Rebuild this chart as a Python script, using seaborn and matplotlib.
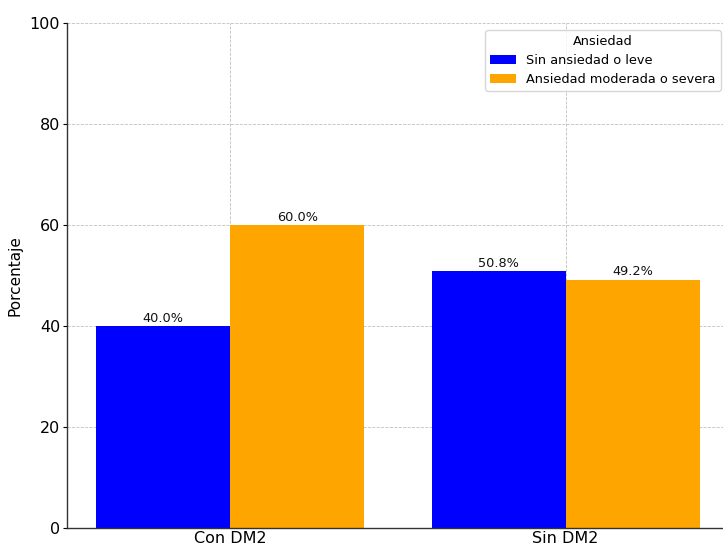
import matplotlib
matplotlib.use("Agg")
import matplotlib.pyplot as plt
import seaborn as sns
import pandas as pd

groups = ["Con DM2", "Sin DM2"]
categories = ["Sin ansiedad o leve", "Ansiedad moderada o severa"]
values_leve = [40.0, 50.8]
values_severa = [60.0, 49.2]
colors = ["#0000FF", "#FFA500"]

df = pd.DataFrame({
    "Grupo": groups * 2,
    "Ansiedad": [categories[0]] * 2 + [categories[1]] * 2,
    "Porcentaje": values_leve + values_severa,
})

sns.set_style("white")
plt.rcParams['font.family'] = ['DejaVu Sans']
plt.rcParams['text.color'] = 'black'
plt.rcParams['axes.labelcolor'] = 'black'
plt.rcParams['xtick.color'] = 'black'
plt.rcParams['ytick.color'] = 'black'

fig = plt.figure(figsize=(7.23, 5.47), dpi=100)
ax = fig.add_axes([67/723, 19/547, 663/723, 505/547])
ax.set_axisbelow(True)
sns.barplot(data=df, x="Grupo", y="Porcentaje", hue="Ansiedad",
            hue_order=categories, order=groups, palette=colors,
            linewidth=0, saturation=1, ax=ax, errorbar=None)

ax.set_xlim(-0.487, 1.49)
ax.set_ylim(0, 100)
ax.set_yticks([0, 20, 40, 60, 80, 100])
ax.grid(True, linestyle='--', linewidth=0.6, color='#c0c0c0')
ax.set_xlabel("")
ax.set_ylabel("Porcentaje", fontsize=11, labelpad=5)
ax.tick_params(axis='y', labelsize=11.5, length=3, width=0.8, pad=2, left=True, colors='black')
ax.tick_params(axis='x', labelsize=11.5, length=0, pad=2, colors='black')
for s in ["top", "right"]:
    ax.spines[s].set_visible(False)
for s in ["left", "bottom"]:
    ax.spines[s].set_color("#333333")
    ax.spines[s].set_linewidth(1.0)

for cont in ax.containers:
    ax.bar_label(cont, labels=[f"{v:.1f}%" for v in cont.datavalues], fontsize=9.3,
                 padding=1, color='#111111')

leg = ax.legend(title="Ansiedad", loc="upper right", fontsize=9.3, title_fontsize=9.3,
                frameon=True, bbox_to_anchor=(0.996, 0.999), borderpad=0.4,
                labelspacing=0.45, handlelength=2.0)
leg.get_frame().set_edgecolor("#cccccc")

fig.savefig("out.png", dpi=100)
